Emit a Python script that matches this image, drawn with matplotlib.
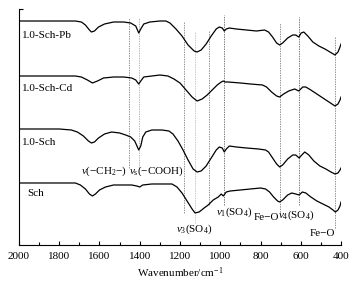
import numpy as np
import matplotlib
matplotlib.use("Agg")
import matplotlib.pyplot as plt

plt.rcParams["font.family"] = "Liberation Serif"
plt.rcParams["mathtext.fontset"] = "custom"
plt.rcParams["mathtext.rm"] = "Liberation Serif"
plt.rcParams["mathtext.it"] = "Liberation Serif:italic"

# FTIR spectra (offset, arbitrary units)
wn_pb = [2000, 1900, 1800, 1720, 1690, 1670, 1650, 1640, 1625, 1605, 1575, 1530, 1480, 1445,
         1420, 1405, 1395, 1380, 1350, 1300, 1270, 1250, 1220, 1190, 1160, 1130, 1115, 1095,
         1070, 1045, 1020, 1005, 990, 980, 970, 955, 920, 870, 820, 780, 760, 740, 720, 705,
         690, 665, 640, 625, 610, 598, 585, 565, 540, 510, 480, 455, 430, 415, 405, 400]
t_pb = [224, 224, 224, 224, 223, 220, 215, 213, 214, 218, 221, 223, 223, 222,
        219, 212, 216, 221, 223, 224, 224, 222, 216, 209, 200, 194, 193, 195,
        201, 209, 216, 218, 217, 214, 216, 217, 216, 215, 214, 215, 213, 208, 202, 200,
        202, 207, 210, 210, 208, 212, 213, 209, 203, 199, 196, 193, 190, 193, 198, 201]

wn_cd = [2000, 1900, 1800, 1720, 1690, 1660, 1635, 1610, 1580, 1530, 1480, 1440, 1420, 1405,
         1395, 1380, 1340, 1300, 1260, 1230, 1200, 1170, 1140, 1115, 1090, 1065, 1040, 1015,
         995, 985, 975, 960, 900, 850, 790, 770, 745, 720, 705, 685, 660, 630, 610, 590,
         575, 550, 520, 490, 460, 430, 415, 405, 400]
t_cd = [169, 169, 169, 169, 168, 165, 162, 164, 167, 168, 168, 167, 165, 161,
        164, 168, 169, 170, 169, 166, 162, 155, 148, 144, 146, 150, 155, 160,
        163, 164, 163, 163, 162, 161, 160, 158, 153, 149, 148, 151, 154, 156, 154, 158,
        158, 155, 151, 147, 143, 139, 141, 145, 148]

wn_s1 = [2000, 1900, 1800, 1740, 1710, 1680, 1655, 1640, 1625, 1605, 1575, 1540, 1500, 1470,
         1445, 1425, 1405, 1395, 1385, 1370, 1340, 1290, 1255, 1235, 1210, 1185, 1160, 1135,
         1115, 1095, 1070, 1045, 1020, 1005, 990, 980, 970, 955, 920, 870, 810, 775, 760,
         740, 720, 705, 690, 665, 640, 625, 608, 595, 580, 560, 535, 505, 475, 450, 430,
         415, 405, 400]
t_s1 = [116, 116, 116, 115, 113, 109, 104, 102, 103, 107, 111, 113, 112, 110,
        108, 104, 95, 99, 108, 113, 115, 115, 114, 111, 104, 95, 85, 76,
        73, 74, 79, 87, 95, 98, 97, 93, 96, 99, 98, 97, 96, 95, 93,
        87, 81, 78, 80, 86, 90, 90, 87, 90, 93, 90, 84, 79, 76, 73, 71,
        72, 75, 77]

wn_sch = [2000, 1900, 1800, 1720, 1695, 1670, 1650, 1635, 1620, 1600, 1570, 1530, 1480, 1440,
          1415, 1400, 1385, 1340, 1280, 1240, 1215, 1190, 1165, 1140, 1125, 1105, 1080, 1060,
          1035, 1010, 995, 985, 970, 950, 900, 850, 800, 775, 755, 735, 715, 705, 690, 665,
          645, 625, 608, 592, 575, 550, 520, 490, 460, 440, 428, 415, 405, 400]
t_sch = [62, 62, 62, 62, 60, 56, 51, 49, 51, 55, 58, 60, 60, 60,
         59, 58, 60, 61, 61, 61, 58, 52, 44, 36, 32, 33, 37, 40,
         45, 48, 51, 49, 53, 54, 55, 56, 57, 56, 53, 48, 44, 43, 45, 50,
         52, 51, 50, 53, 52, 48, 44, 41, 38, 35, 33, 35, 39, 43]

# band positions for the dashed guide lines (cm-1) and their extents
band_wn = [1455, 1405, 1180, 1125, 1058, 980, 703, 608, 428]
band_lo = [77, 77, 32, 22, 40, 40, 33, 40, 17]
band_hi = [227, 227, 223, 213, 215, 230, 222, 228, 208]
band_col = ["#666666", "#999999", "#666666", "#b0b0b0", "#666666", "#444444", "#666666", "#444444", "#666666"]

fig = plt.figure(figsize=(3.55, 2.85), dpi=100)
ax = fig.add_axes([0.0535, 0.1404, 0.9071, 0.828])

for w, lo, hi, c in zip(band_wn, band_lo, band_hi, band_col):
    ax.plot([w, w], [lo, hi], color=c, lw=0.5, ls=(0, (2, 1.5)), zorder=1)

for wn, t in [(wn_pb, t_pb), (wn_cd, t_cd), (wn_s1, t_s1), (wn_sch, t_sch)]:
    ax.plot(wn, t, color="black", lw=0.9, zorder=2)

fs = 8
ax.text(1985, 210, "1.0-Sch-Pb", fontsize=fs, va="center", ha="left")
ax.text(1985, 156, "1.0-Sch-Cd", fontsize=fs, va="center", ha="left")
ax.text(1985, 102, "1.0-Sch", fontsize=fs, va="center", ha="left")
ax.text(1960, 51, "Sch", fontsize=fs, va="center", ha="left")
ax.text(1462, 74, "$v$(−CH$_2$−)", fontsize=fs, va="center", ha="right")
ax.text(1452, 74, "$v_{\\rm s}$(−COOH)", fontsize=fs, va="center", ha="left")
ax.text(1130, 16, "$v_3$(SO$_4$)", fontsize=fs, va="center", ha="center")
ax.text(1022, 33, "$v_1$(SO$_4$)", fontsize=fs, va="center", ha="left")
ax.text(706, 27, "Fe−O", fontsize=fs, va="center", ha="right")
ax.text(712, 30, "$v_4$(SO$_4$)", fontsize=fs, va="center", ha="left")
ax.text(490, 11, "Fe−O", fontsize=fs, va="center", ha="center")

ax.set_xlim(2000, 400)
ax.set_ylim(0, 236)
ax.set_xticks(range(2000, 399, -200))
ax.set_xticks(range(1900, 400, -200), minor=True)
ax.set_yticks([236])
ax.set_yticklabels([])
ax.tick_params(axis="both", which="major", direction="in", length=3, width=0.8, labelsize=fs, pad=5)
ax.tick_params(axis="x", which="minor", direction="in", length=2, width=0.8)
ax.spines["top"].set_visible(False)
ax.spines["right"].set_visible(False)
ax.spines["left"].set_linewidth(0.8)
ax.spines["bottom"].set_linewidth(0.8)
ax.set_xlabel("Wavenumber/cm$^{-1}$", fontsize=fs, labelpad=3)

fig.savefig("out.png", dpi=100)
